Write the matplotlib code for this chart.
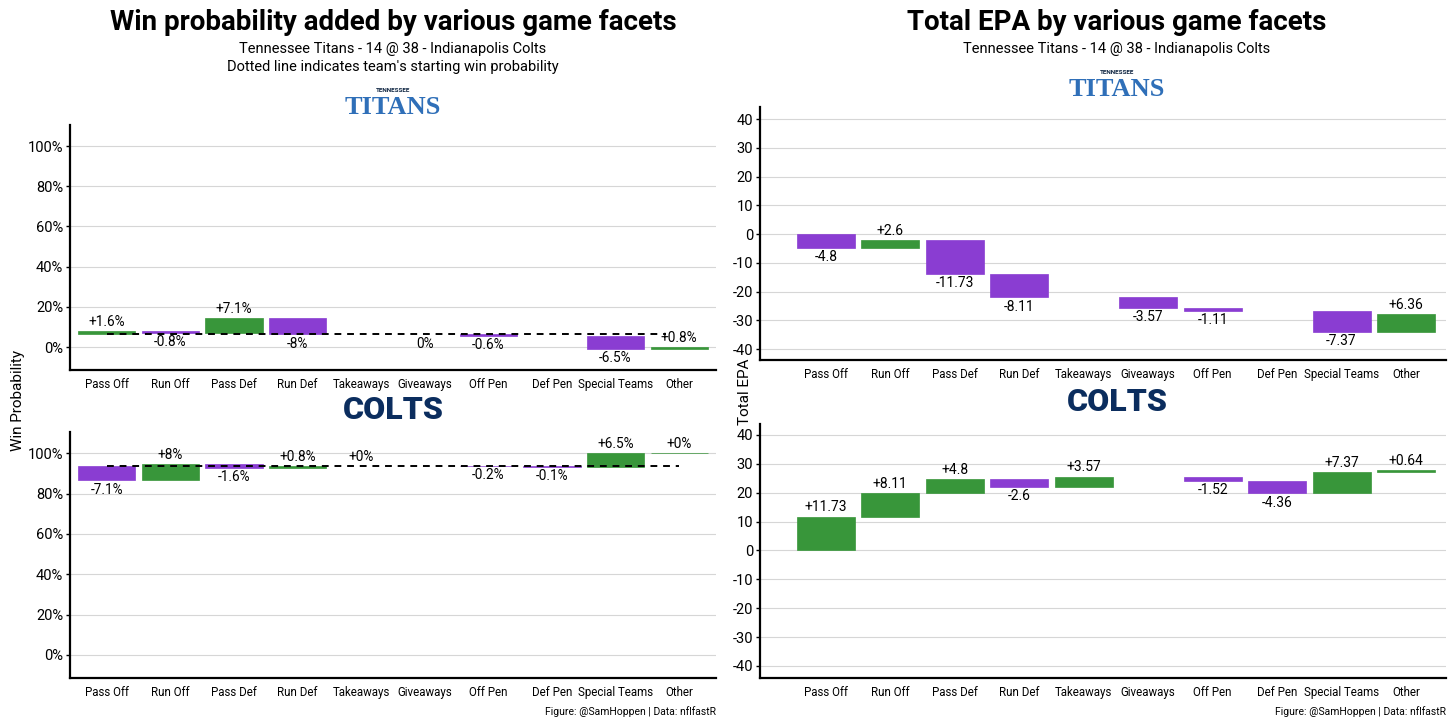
import matplotlib
matplotlib.use("Agg")
import matplotlib.pyplot as plt
from matplotlib.ticker import FuncFormatter

plt.rcParams['font.family'] = ['Roboto', 'DejaVu Sans']

categories = ["Pass Off", "Run Off", "Pass Def", "Run Def", "Takeaways",
              "Giveaways", "Off Pen", "Def Pen", "Special Teams", "Other"]

# Win probability added (percentage points)
ten_wp_start = 6.4
ten_wp = [1.6, -0.8, 7.1, -8.0, None, 0.0, -0.6, None, -6.5, 0.8]
ten_wp_labels = ["+1.6%", "-0.8%", "+7.1%", "-8%", "", "0%", "-0.6%", "", "-6.5%", "+0.8%"]
ind_wp_start = 93.6
ind_wp = [-7.1, 8.0, -1.6, 0.8, 0.0, None, -0.2, -0.1, 6.5, 0.02]
ind_wp_labels = ["-7.1%", "+8%", "-1.6%", "+0.8%", "+0%", "", "-0.2%", "-0.1%", "+6.5%", "+0%"]

# Total EPA
ten_epa = [-4.8, 2.6, -11.73, -8.11, None, -3.57, -1.11, None, -7.37, 6.36]
ind_epa = [11.73, 8.11, 4.8, -2.6, 3.57, None, -1.52, -4.36, 7.37, 0.64]

wp_ticks = [0, 20, 40, 60, 80, 100]
epa_ticks = [-40, -30, -20, -10, 0, 10, 20, 30, 40]

GREEN = '#38963a'
PURPLE = '#8a3dd2'
W, H = 1456, 728

fig = plt.figure(figsize=(W / 100, H / 100), dpi=100)


def add_ax(x0, y0, x1, y1):
    return fig.add_axes([x0 / W, 1 - y1 / H, (x1 - x0) / W, (y1 - y0) / H])


def style(ax, ticks, fmt, ylim, xlim):
    ax.set_xlim(*xlim)
    ax.set_ylim(*ylim)
    ax.set_yticks(ticks)
    ax.yaxis.set_major_formatter(FuncFormatter(fmt))
    ax.set_xticks(range(1, len(categories) + 1))
    ax.set_xticklabels(categories, fontsize=8.3)
    ax.tick_params(axis='x', length=0, pad=6)
    ax.tick_params(axis='y', length=3, width=1, labelsize=10.5, pad=2)
    for s in ['top', 'right']:
        ax.spines[s].set_visible(False)
    for s in ['left', 'bottom']:
        ax.spines[s].set_linewidth(1.6)
    ax.grid(axis='y', color='#d6d6d6', lw=0.8)
    ax.set_axisbelow(True)


def waterfall(ax, start, vals, labels, fs, dash=None):
    cur = start
    for i, v in enumerate(vals):
        if v is None:
            continue
        x = i + 1
        new = cur + v
        lo, hi = min(cur, new), max(cur, new)
        col = GREEN if v >= 0 else PURPLE
        if v != 0:
            ax.bar(x, hi - lo, bottom=lo, width=0.9, color=col, edgecolor=col,
                   lw=0.5, zorder=2)
        lab = labels[i]
        if lab:
            if lab.startswith('+'):
                ax.annotate(lab, (x, hi), xytext=(0, 1.5), textcoords='offset points',
                            ha='center', va='bottom', fontsize=fs, zorder=4)
            else:
                ax.annotate(lab, (x, lo), xytext=(0, -1.5), textcoords='offset points',
                            ha='center', va='top', fontsize=fs, zorder=4)
        cur = new
    if dash is not None:
        ax.plot([1, dash], [start, start], color='black', lw=1.4,
                ls=(0, (3.5, 3)), zorder=3)


pct = lambda v, p: f"{int(v)}%"
num = lambda v, p: f"{int(v)}"

ax1 = add_ax(70, 125, 716, 370)
style(ax1, wp_ticks, pct, (-11.4, 110.5), (0.42, 10.58))
waterfall(ax1, ten_wp_start, ten_wp, ten_wp_labels, 9.8, dash=9.8)

ax2 = add_ax(70, 432, 716, 678)
style(ax2, wp_ticks, pct, (-11.4, 110.5), (0.42, 10.58))
waterfall(ax2, ind_wp_start, ind_wp, ind_wp_labels, 9.8, dash=10)

epa_lab = lambda vals: [("" if v is None else f"{v:+g}") for v in vals]

ax3 = add_ax(760, 107, 1446, 360)
style(ax3, epa_ticks, num, (-43.8, 44.2), (-0.02, 10.62))
waterfall(ax3, 0, ten_epa, epa_lab(ten_epa), 10)

ax4 = add_ax(760, 424, 1446, 678)
style(ax4, epa_ticks, num, (-44.2, 43.8), (-0.02, 10.62))
waterfall(ax4, 0, ind_epa, epa_lab(ind_epa), 10)

# titles
fig.text(393 / W, 1 - 23 / H, "Win probability added by various game facets",
         ha='center', va='center', fontsize=20, fontweight='bold')
fig.text(393 / W, 1 - 49 / H, "Tennessee Titans - 14 @ 38 - Indianapolis Colts",
         ha='center', va='center', fontsize=10.5)
fig.text(393 / W, 1 - 67 / H, "Dotted line indicates team's starting win probability",
         ha='center', va='center', fontsize=10.5)
fig.text(1117 / W, 1 - 23 / H, "Total EPA by various game facets",
         ha='center', va='center', fontsize=20, fontweight='bold')
fig.text(1117 / W, 1 - 49 / H, "Tennessee Titans - 14 @ 38 - Indianapolis Colts",
         ha='center', va='center', fontsize=10.5)

# team wordmarks
for cx, cy in [(393, 103), (1117, 86)]:
    fig.text(cx / W, 1 - (cy - 13) / H, "TENNESSEE", ha='center', va='center',
             fontsize=4.5, fontweight='bold', color='#0c2340')
    fig.text(cx / W, 1 - (cy + 4) / H, "TITANS", ha='center', va='center',
             fontsize=19, fontweight='bold', color='#2f6fb8',
             family=['Liberation Serif'])
for cx, cy in [(393, 410), (1117, 402)]:
    fig.text(cx / W, 1 - cy / H, "COLTS", ha='center', va='center',
             fontsize=23, fontweight='heavy', color='#0b2d5e')

# axis titles
fig.text(18 / W, 1 - 400 / H, "Win Probability", rotation=90, ha='center',
         va='center', fontsize=11)
fig.text(745 / W, 1 - 392 / H, "Total EPA", rotation=90, ha='center',
         va='center', fontsize=11)

# captions
for xr in [716, 1446]:
    fig.text(xr / W, 1 - 712 / H, "Figure: @SamHoppen | Data: nflfastR",
             ha='right', va='center', fontsize=7.5)

fig.savefig("out.png", dpi=100, facecolor='white')
